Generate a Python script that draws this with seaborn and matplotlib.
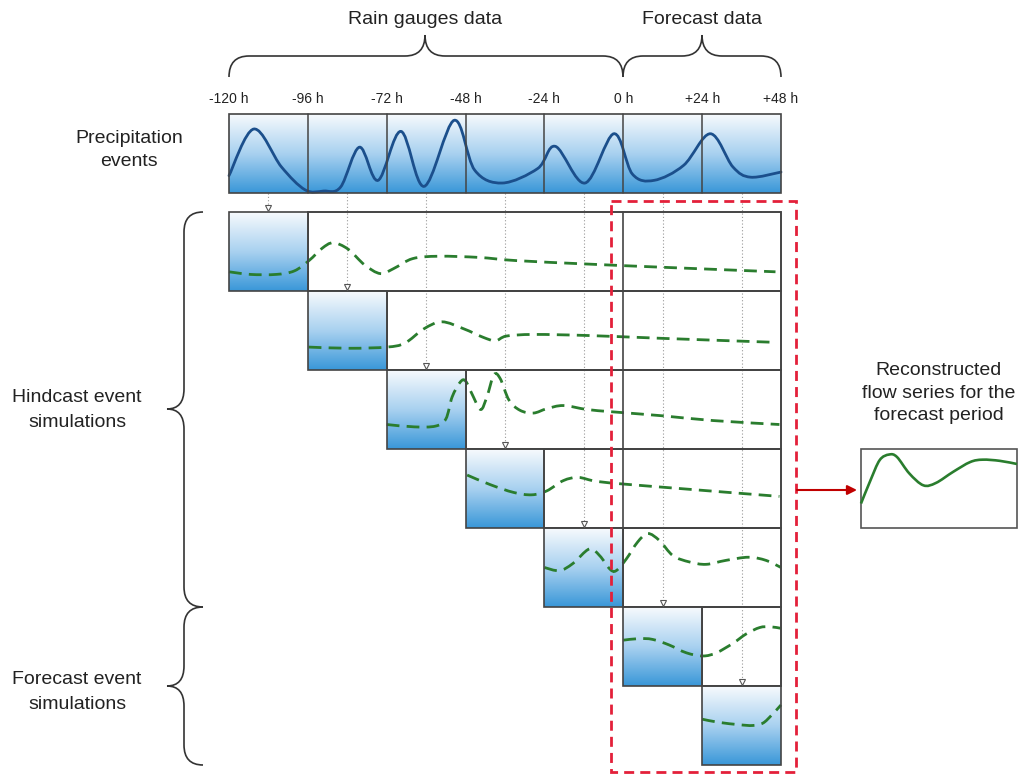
import numpy as np
import matplotlib
matplotlib.use("Agg")
import matplotlib.pyplot as plt
import seaborn as sns
from matplotlib.path import Path
from matplotlib.patches import PathPatch, Rectangle

# Time axis (hours) and labels
hour_ticks = [-120, -96, -72, -48, -24, 0, 24, 48]
hour_labels = ["-120 h", "-96 h", "-72 h", "-48 h", "-24 h", "0 h", "+24 h", "+48 h"]

# Precipitation curve: x in column units (0..7), y as fraction of box height
precip_x = [0.0, 0.315, 0.665, 0.965, 1.2, 1.415, 1.655, 1.89, 2.18, 2.475, 2.855,
            3.115, 3.465, 3.915, 4.14, 4.515, 4.88, 5.115, 5.39, 5.765, 6.105,
            6.39, 6.615, 7.0]
precip_y = [0.22, 0.81, 0.33, 0.04, 0.025, 0.075, 0.58, 0.16, 0.78, 0.084, 0.92,
            0.29, 0.126, 0.31, 0.59, 0.126, 0.75, 0.24, 0.16, 0.35, 0.75,
            0.33, 0.2, 0.265]

# Simulated flow per event row (x in column units, y as fraction of row height)
sim_x = [
    [0.0, 0.27, 0.6, 0.83, 1.02, 1.18, 1.32, 1.51, 1.72, 1.92, 2.09, 2.33, 2.66,
     3.17, 3.64, 4.57, 5.51, 6.93],
    [1.01, 1.53, 2.0, 2.23, 2.47, 2.70, 2.98, 3.22, 3.38, 3.52, 3.87, 4.57, 5.51, 6.93],
    [2.0, 2.35, 2.62, 2.75, 2.83, 2.935, 3.0, 3.08, 3.19, 3.27, 3.36, 3.44, 3.55,
     3.69, 3.86, 4.03, 4.24, 4.54, 4.87, 5.5, 6.14, 6.98],
    [3.02, 3.31, 3.61, 3.84, 4.03, 4.24, 4.43, 4.66, 5.08, 5.71, 6.34, 6.98],
    [4.0, 4.19, 4.36, 4.57, 4.70, 4.83, 4.91, 5.04, 5.18, 5.31, 5.46, 5.63, 5.84,
     6.05, 6.30, 6.59, 6.81, 7.0],
    [5.0, 5.2, 5.37, 5.58, 5.8, 6.01, 6.18, 6.39, 6.56, 6.73, 6.86, 7.0],
    [6.0, 6.21, 6.47, 6.64, 6.77, 6.88, 7.0],
]
sim_y = [
    [0.243, 0.21, 0.21, 0.255, 0.39, 0.54, 0.61, 0.53, 0.33, 0.22, 0.285, 0.41, 0.44,
     0.425, 0.385, 0.34, 0.30, 0.243],
    [0.29, 0.275, 0.29, 0.34, 0.52, 0.61, 0.52, 0.415, 0.37, 0.43, 0.45, 0.436, 0.40, 0.35],
    [0.31, 0.28, 0.29, 0.38, 0.66, 0.85, 0.86, 0.70, 0.50, 0.66, 0.94, 0.89, 0.62,
     0.49, 0.455, 0.51, 0.55, 0.50, 0.47, 0.42, 0.36, 0.31],
    [0.67, 0.55, 0.45, 0.42, 0.47, 0.60, 0.64, 0.59, 0.55, 0.50, 0.45, 0.40],
    [0.50, 0.46, 0.55, 0.735, 0.65, 0.48, 0.46, 0.61, 0.82, 0.93, 0.84, 0.65, 0.57,
     0.54, 0.59, 0.63, 0.59, 0.50],
    [0.58, 0.60, 0.59, 0.52, 0.42, 0.38, 0.42, 0.54, 0.66, 0.74, 0.75, 0.73],
    [0.58, 0.54, 0.51, 0.50, 0.53, 0.63, 0.76],
]

# Reconstructed flow series (x and y as fractions of the small box)
recon_x = [0.0, 0.06, 0.12, 0.18, 0.23, 0.31, 0.40, 0.48, 0.59, 0.70, 0.78, 0.89, 1.0]
recon_y = [0.31, 0.60, 0.86, 0.93, 0.90, 0.69, 0.54, 0.57, 0.71, 0.835, 0.865, 0.85, 0.81]

# Styling
sns.set_theme(style="white")
plt.rcParams["font.family"] = ["Liberation Sans", "DejaVu Sans"]
grad_cmap = sns.blend_palette(["#f7fafd", "#a9d1f0", "#3997d8"], as_cmap=True)
GREEN = "#2a7d2e"
BLUE = "#1b4f8c"
EDGE = "#444444"
TXT = "#222222"

PX_PER_H = 552 / 168


def hx(px):
    return -120 + (px - 229) / PX_PER_H


def ry(py):
    return (py - 212) / 79


def col_h(c):
    return -120 + 24 * np.asarray(c, dtype=float)


def smooth_path(xs, ys):
    pts = np.column_stack([xs, ys])
    verts = [pts[0]]
    codes = [Path.MOVETO]
    n = len(pts)
    for i in range(n - 1):
        p0 = pts[i - 1] if i > 0 else pts[i]
        p1 = pts[i]
        p2 = pts[i + 1]
        p3 = pts[i + 2] if i + 2 < n else pts[i + 1]
        verts += [p1 + (p2 - p0) / 6, p2 - (p3 - p1) / 6, p2]
        codes += [Path.CURVE4] * 3
    return Path(verts, codes)


def gradient(ax, x0, x1, y_top, y_bot):
    g = np.linspace(0, 1, 256).reshape(-1, 1)
    ax.imshow(g, cmap=grad_cmap, aspect="auto", origin="upper",
              extent=[x0, x1, y_bot, y_top], interpolation="bicubic", zorder=1)


def brace_h(ax, x0, x1, xt, yb, ym, yt, r):
    v = [(x0, yb), (x0, ym), (x0 + r, ym), (xt - r, ym), (xt, ym), (xt, yt),
         (xt, ym), (xt + r, ym), (x1 - r, ym), (x1, ym), (x1, yb)]
    c = [Path.MOVETO, Path.CURVE3, Path.CURVE3, Path.LINETO, Path.CURVE3, Path.CURVE3,
         Path.CURVE3, Path.CURVE3, Path.LINETO, Path.CURVE3, Path.CURVE3]
    ax.add_patch(PathPatch(Path(v, c), fill=False, edgecolor="#333333", lw=1.2, zorder=5))


def brace_v(ax, y0, y1, yt, xb, xm, xt, r):
    v = [(xb, y0), (xm, y0), (xm, y0 + r), (xm, yt - r), (xm, yt), (xt, yt),
         (xm, yt), (xm, yt + r), (xm, y1 - r), (xm, y1), (xb, y1)]
    c = [Path.MOVETO, Path.CURVE3, Path.CURVE3, Path.LINETO, Path.CURVE3, Path.CURVE3,
         Path.CURVE3, Path.CURVE3, Path.LINETO, Path.CURVE3, Path.CURVE3]
    ax.add_patch(PathPatch(Path(v, c), fill=False, edgecolor="#333333", lw=1.2, zorder=5))


fig = plt.figure(figsize=(10.19, 7.75), dpi=100)
ax = fig.add_axes([0, 0, 1, 1])
ax.axis("off")

n_cols = len(hour_ticks) - 1
p_top, p_bot = ry(114), ry(193)

# Precipitation row
gradient(ax, hour_ticks[0], hour_ticks[-1], p_top, p_bot)
ax.add_patch(Rectangle((hour_ticks[0], p_top), hour_ticks[-1] - hour_ticks[0], p_bot - p_top,
                       fill=False, edgecolor=EDGE, lw=1.2, zorder=4))
for h in hour_ticks[1:-1]:
    ax.plot([h, h], [p_top, p_bot], color=EDGE, lw=1.1, zorder=4)
ax.add_patch(PathPatch(smooth_path(col_h(precip_x), p_bot - np.array(precip_y) * (p_bot - p_top)),
                       fill=False, edgecolor=BLUE, lw=2.0, zorder=3, capstyle="round"))
for h, lab in zip(hour_ticks, hour_labels):
    ax.text(h, ry(99), lab, ha="center", va="center", fontsize=10, color=TXT)

# Event rows
for r in range(n_cols):
    h0, h1 = hour_ticks[r], hour_ticks[r + 1]
    gradient(ax, h0, h1, r, r + 1)
    ax.add_patch(Rectangle((h0, r), 24, 1, fill=False, edgecolor=EDGE, lw=1.2, zorder=4))
    if r + 1 < n_cols:
        ax.add_patch(Rectangle((h1, r), hour_ticks[-1] - h1, 1, facecolor="white",
                               edgecolor=EDGE, lw=1.2, zorder=0.5))
        ax.add_patch(Rectangle((h1, r), hour_ticks[-1] - h1, 1, fill=False,
                               edgecolor=EDGE, lw=1.2, zorder=4))
        if h1 < 0:
            ax.plot([0, 0], [r, r + 1], color=EDGE, lw=1.2, zorder=4)
    ys = r + 1 - np.array(sim_y[r])
    ax.add_patch(PathPatch(smooth_path(col_h(sim_x[r]), ys), fill=False, edgecolor=GREEN,
                           lw=2.0, ls=(0, (4.6, 2.6)), zorder=3))
    # dotted connector from the precipitation box
    hm = (h0 + h1) / 2
    ax.plot([hm, hm], [p_bot, r - 0.05], color="#999999", lw=0.8, ls=(0, (1, 2)), zorder=2)
    ax.plot([hm], [r - 0.045], marker="v", ms=5, mfc="white", mec="#555555", mew=0.8, zorder=6)

# Red highlight of the forecast window
ax.add_patch(Rectangle((hx(611), ry(201)), hx(796) - hx(611), ry(772) - ry(201), fill=False,
                       edgecolor="#e3203a", lw=2.0, ls=(0, (3.6, 2.2)), zorder=7))
ax.annotate("", xy=(hx(857), ry(490)), xytext=(hx(797), ry(490)),
            arrowprops=dict(arrowstyle="-|>", color="#c00000", lw=1.5, mutation_scale=14,
                            shrinkA=0, shrinkB=0), zorder=7)

# Reconstructed series
bx0, bx1, by0, by1 = hx(861), hx(1017), ry(449), ry(528)
ax.add_patch(Rectangle((bx0, by0), bx1 - bx0, by1 - by0, facecolor="white", edgecolor="#555555",
                       lw=1.2, zorder=4))
ax.add_patch(PathPatch(smooth_path(bx0 + np.array(recon_x) * (bx1 - bx0),
                                   by1 - np.array(recon_y) * (by1 - by0)),
                       fill=False, edgecolor=GREEN, lw=1.9, zorder=5))
ax.text(hx(939), ry(393), "Reconstructed\nflow series for the\nforecast period", ha="center",
        va="center", fontsize=14, color=TXT, linespacing=1.42)

# Top braces and labels
brace_h(ax, hx(229), hx(623), hx(425), ry(77), ry(56), ry(35), 20 / PX_PER_H)
brace_h(ax, hx(623), hx(781), hx(702), ry(77), ry(56), ry(35), 20 / PX_PER_H)
ax.text(hx(425), ry(20), "Rain gauges data", ha="center", va="center", fontsize=14, color=TXT)
ax.text(hx(702), ry(20), "Forecast data", ha="center", va="center", fontsize=14, color=TXT)

# Left braces and labels
brace_v(ax, ry(212), ry(607), ry(409), hx(203), hx(184), hx(167), 20 / 79)
brace_v(ax, ry(607), ry(765), ry(686), hx(203), hx(184), hx(167), 20 / 79)
ax.text(hx(129), ry(150), "Precipitation\nevents", ha="center", va="center", fontsize=14,
        color=TXT, linespacing=1.42)
ax.text(hx(77), ry(410), "Hindcast event\nsimulations", ha="center", va="center", fontsize=14,
        color=TXT, linespacing=1.55)
ax.text(hx(77), ry(692), "Forecast event\nsimulations", ha="center", va="center", fontsize=14,
        color=TXT, linespacing=1.55)

ax.set_xlim(hx(0), hx(1019))
ax.set_ylim(ry(775), ry(0))

fig.savefig("out.png", dpi=100)
